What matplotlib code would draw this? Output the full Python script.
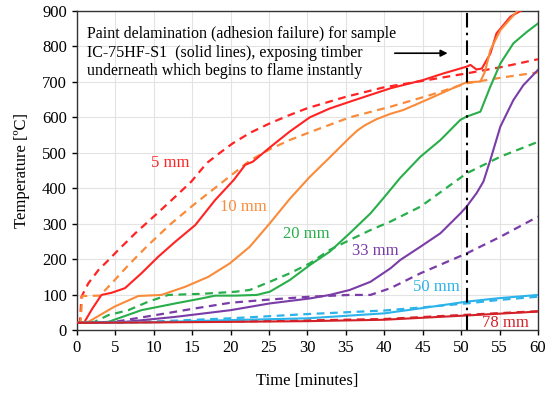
import matplotlib
matplotlib.use("Agg")
import matplotlib.pyplot as plt

# ---- data (time [min], temperature [degC]) ----
t5_solid = [0, 1.0, 2.0, 3.2, 4.5, 6.25, 8.4, 10.6, 12.8, 15.4, 18.0, 20.4, 21.9, 22.9, 25.1, 27.7, 30.3, 32.9, 35.9, 40.8, 45, 47.7, 50.7, 51.2, 52.0, 52.7, 53.8, 54.6, 56.4, 57.7, 58.5]
T5_solid = [20, 23, 60, 99, 105, 118, 160, 207, 249, 296, 367, 423, 466, 475, 515, 560, 600, 625, 647, 682, 705, 724, 743, 748, 735, 738, 780, 837, 884, 900, 910]
t5_dash = [0, 0.4, 0.6, 1.5, 2.8, 4.1, 5.4, 7.6, 10.2, 12.8, 14.9, 16.9, 18.8, 20.3, 22.5, 25, 27.5, 30, 35, 40, 45, 50.7, 55.5, 60]
T5_dash = [20, 23, 94, 132, 169, 197, 226, 273, 324, 376, 419, 471, 503, 527, 556, 582, 605, 626, 658, 685, 703, 724, 743, 764]

t10_solid = [0, 1.5, 4.9, 8.0, 11.0, 14.1, 17.1, 19.9, 22.5, 25.1, 27.7, 30.3, 32.9, 35.5, 36.5, 37.5, 39.0, 40.8, 42.5, 46, 49.4, 50.7, 52.5, 53.1, 53.8, 55.1, 57.3, 58.5]
T10_solid = [20, 23, 66, 96, 99, 122, 150, 188, 235, 301, 370, 432, 487, 543, 563, 578, 595, 610, 621, 654, 687, 699, 701, 729, 790, 846, 900, 915]
t10_dash = [0, 0.5, 0.7, 3.0, 4.5, 6.7, 9.3, 12.3, 15.4, 20.1, 22.5, 25.1, 27.7, 30.3, 35.5, 40.8, 46, 50.7, 55.5, 60]
T10_dash = [20, 25, 96, 97, 131, 183, 240, 301, 357, 437, 478, 510, 536, 558, 600, 630, 663, 696, 713, 727]

t20_solid = [0, 4.1, 8.4, 12.8, 16.2, 18, 20.6, 23.4, 25.1, 27.7, 30.3, 32.9, 35.5, 38.2, 40.0, 42.1, 44.7, 47.3, 49.9, 50.7, 52.5, 53.8, 55.1, 56.8, 58.6, 60]
T20_solid = [20, 23, 56, 75, 89, 97, 97, 99, 108, 141, 183, 221, 273, 329, 375, 430, 489, 536, 593, 602, 616, 687, 752, 809, 842, 865]
t20_dash = [0, 2.3, 4.1, 6.7, 9.3, 11.9, 16.2, 20.6, 22.5, 25.1, 27.7, 30.3, 32.9, 35.5, 38.2, 40.8, 44.7, 50.7, 55.1, 60]
T20_dash = [20, 23, 42, 56, 80, 99, 102, 108, 113, 136, 160, 188, 226, 254, 282, 306, 348, 442, 489, 531]

t33_solid = [0, 6.25, 12.8, 20, 25.1, 30.3, 32.9, 35.5, 38.2, 40.8, 42.1, 44.7, 47.3, 49.9, 50.7, 52, 52.9, 53.8, 55.1, 56.8, 58.1, 60]
T33_solid = [20, 23, 37, 56, 75, 89, 99, 113, 136, 174, 198, 235, 273, 329, 348, 386, 419, 480, 574, 649, 691, 734]
t33_dash = [0, 4.9, 10.2, 15.4, 20, 25.1, 30.3, 35.5, 38.2, 40.8, 44.7, 50.7, 55.1, 60]
T33_dash = [20, 23, 42, 61, 77, 86, 94, 99, 99, 118, 160, 216, 263, 320]

t50_solid = [0, 10, 20, 30, 40, 45, 50.7, 55, 60]
T50_solid = [20, 22, 28, 33, 47, 62, 80, 90, 99]
t50_dash = [0, 10, 20, 30, 40, 45, 50.7, 55, 60]
T50_dash = [20, 24, 33, 45, 55, 64, 75, 85, 94]

t78_solid = [0, 20, 30, 40, 50.7, 60]
T78_solid = [20, 23, 25, 29, 41, 52]
t78_dash = [0, 20, 30, 40, 50.7, 60]
T78_dash = [21, 24, 27, 31, 43, 53]

labels = ["5 mm", "10 mm", "20 mm", "33 mm", "50 mm", "78 mm"]
label_t = [12.1, 21.6, 29.9, 38.8, 46.8, 55.7]
label_T = [471, 347, 270, 223, 122, 19]

delam_time = 50.7
note = ("Paint delamination (adhesion failure) for sample\n"
        "IC-75HF-S1  (solid lines), exposing timber\n"
        "underneath which begins to flame instantly")

colors = ["#FF2323", "#F98B3A", "#28AE4A", "#7A3CA6", "#2BB3EA", "#D42128"]

plt.rcParams['font.family'] = ['Liberation Serif', 'DejaVu Serif']

fig = plt.figure(figsize=(5.49, 3.94), dpi=100)
ax = fig.add_axes([0.140, 0.1624, 0.840, 0.8096])

series = [
    (t5_solid, T5_solid, t5_dash, T5_dash),
    (t10_solid, T10_solid, t10_dash, T10_dash),
    (t20_solid, T20_solid, t20_dash, T20_dash),
    (t33_solid, T33_solid, t33_dash, T33_dash),
    (t50_solid, T50_solid, t50_dash, T50_dash),
    (t78_solid, T78_solid, t78_dash, T78_dash),
]

for (ts, Ts, td, Td), c in zip(series, colors):
    ax.plot(td, Td, color=c, lw=1.6, dashes=(3.5, 2.5), zorder=3)
    ax.plot(ts, Ts, color=c, lw=1.5, zorder=4)

for lab, x, y, c in zip(labels, label_t, label_T, colors):
    ax.text(x, y, lab, color=c, fontsize=12, ha='center', va='center', zorder=5)

ax.axvline(delam_time, color='black', lw=1.5, dashes=(7, 2.5, 1.2, 2.5), zorder=6)
ax.annotate("", xy=(48.6, 781), xytext=(41.0, 781),
            arrowprops=dict(arrowstyle='-|>', color='black', lw=1.2,
                            mutation_scale=10), zorder=6)
ax.text(1.3, 782, note, fontsize=11.5, ha='left', va='center',
        linespacing=1.2, zorder=6)

ax.set_xlim(0, 60)
ax.set_ylim(0, 900)
ax.set_xticks(range(0, 61, 5))
ax.set_yticks(range(0, 901, 100))
ax.grid(True, color='#E3E3E3', lw=0.8, zorder=0)
ax.set_axisbelow(True)
ax.tick_params(direction='out', length=3.6, width=1, labelsize=12, pad=3.5)
for sp in ax.spines.values():
    sp.set_linewidth(1.0)
    sp.set_color('#333333')

ax.set_xlabel("Time [minutes]", fontsize=12, labelpad=12)
ax.set_ylabel("Temperature [ºC]", fontsize=12, labelpad=9)

fig.savefig("out.png", dpi=100)
